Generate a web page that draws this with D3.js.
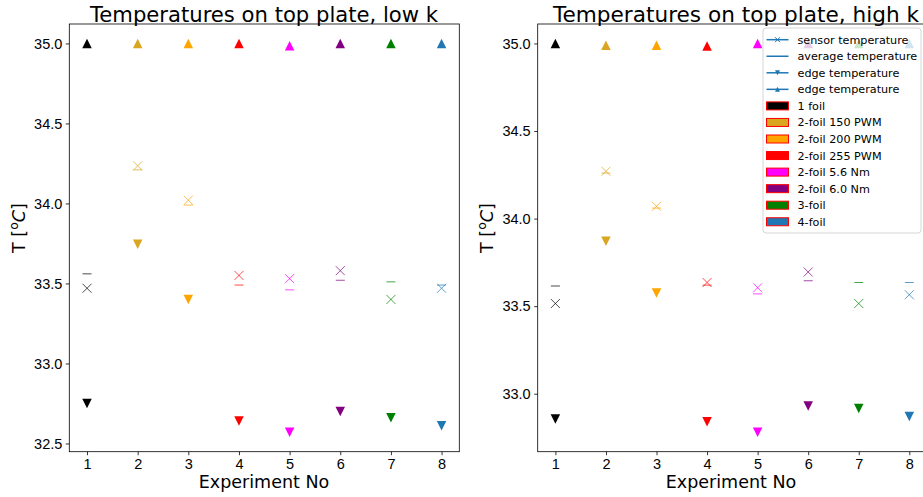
<!DOCTYPE html>
<html lang="en">
<head>
<meta charset="UTF-8">
<title>Temperatures on top plate</title>
<style>
    body { margin: 0; background: #fff; }
    svg { display: block; font-family: "DejaVu Sans", sans-serif; }
    .tick text { font-size: 14.5px; fill: #000; }
    .tick line { stroke: #000; stroke-width: 0.8; }
    .domain { display: none; }
</style>
</head>
<body>
<div id="chart"></div>
<script src="https://d3js.org/d3.v7.min.js"></script>
<script>
// Experiment numbers and foil configurations
const experiments = [1, 2, 3, 4, 5, 6, 7, 8];
const foilLabels = ["1 foil", "2-foil 150 PWM", "2-foil 200 PWM", "2-foil 255 PWM",
    "2-foil 5.6 Nm", "2-foil 6.0 Nm", "3-foil", "4-foil"];
const foilColors = ["black", "goldenrod", "orange", "red", "magenta", "purple", "green", "#1f77b4"];

// low k plate
const lowSensor  = [33.47, 34.235, 34.02, 33.55, 33.53, 33.58, 33.40, 33.47];
const lowAverage = [33.56, 34.21, 33.99, 33.49, 33.46, 33.52, 33.51, 33.49];
const lowEdgeMin = [32.75, 33.745, 33.40, 32.64, 32.57, 32.70, 32.66, 32.61];
const lowEdgeMax = [35.0, 35.0, 35.0, 35.0, 34.985, 35.0, 35.0, 35.0];

// high k plate
const highSensor  = [33.515, 34.27, 34.07, 33.635, 33.605, 33.695, 33.515, 33.565];
const highAverage = [33.615, 34.26, 34.06, 33.62, 33.57, 33.645, 33.635, 33.635];
const highEdgeMin = [32.855, 33.87, 33.575, 32.84, 32.78, 32.93, 32.915, 32.87];
const highEdgeMax = [35.0, 34.99, 34.99, 34.985, 35.0, 35.0, 35.0, 35.0];

const legendLines = ["sensor temperature", "average temperature", "edge temperature", "edge temperature"];
const yTicksLow = [32.5, 33.0, 33.5, 34.0, 34.5, 35.0];
const yTicksHigh = [33.0, 33.5, 34.0, 34.5, 35.0];

const width = 923, height = 497;
const svg = d3.select("#chart").append("svg")
    .attr("width", width)
    .attr("height", height);

function marker(g, type, x, y, size, color, opacity) {
    const h = size / 2;
    if (type === "x") {
        g.append("path")
            .attr("d", `M${x - h},${y - h}L${x + h},${y + h}M${x - h},${y + h}L${x + h},${y - h}`)
            .attr("stroke", color).attr("stroke-width", 1).attr("fill", "none")
            .attr("opacity", opacity);
    } else if (type === "_") {
        g.append("line")
            .attr("x1", x - h).attr("x2", x + h).attr("y1", y).attr("y2", y)
            .attr("stroke", color).attr("stroke-width", 1).attr("opacity", opacity);
    } else {
        const s = type === "^" ? 1 : -1;
        g.append("path")
            .attr("d", `M${x},${y - s * h}L${x - h},${y + s * h}L${x + h},${y + s * h}Z`)
            .attr("fill", color).attr("opacity", opacity);
    }
}

function drawPanel(opts) {
    const { left, right, top, bottom, title, sensor, average, edgeMin, edgeMax, yTicks, titleX } = opts;
    const g = svg.append("g");

    const allValues = sensor.concat(average, edgeMin, edgeMax);
    const lo = d3.min(allValues), hi = d3.max(allValues);
    const pad = (hi - lo) * 0.05;
    const x = d3.scaleLinear().domain([1 - 0.35, 8 + 0.35]).range([left, right]);
    const y = d3.scaleLinear().domain([lo - pad, hi + pad]).range([bottom, top]);

    // axes
    g.append("g")
        .attr("transform", `translate(0,${bottom})`)
        .call(d3.axisBottom(x).tickValues(experiments).tickFormat(d3.format("d"))
            .tickSize(3.5).tickPadding(3.5));
    g.append("g")
        .attr("transform", `translate(${left},0)`)
        .call(d3.axisLeft(y).tickValues(yTicks).tickFormat(d3.format(".1f"))
            .tickSize(3.5).tickPadding(3.5));

    // markers
    const pts = g.append("g");
    experiments.forEach((e, i) => {
        const c = foilColors[i];
        marker(pts, "x", x(e), y(sensor[i]), 9, c, 0.7);
        marker(pts, "_", x(e), y(average[i]), 9, c, 0.7);
        marker(pts, "v", x(e), y(edgeMin[i]), 9.5, c, 1);
        marker(pts, "^", x(e), y(edgeMax[i]), 9.5, c, 1);
    });

    // frame
    g.append("rect")
        .attr("x", left).attr("y", top)
        .attr("width", right - left).attr("height", bottom - top)
        .attr("fill", "none").attr("stroke", "#000").attr("stroke-width", 0.8);

    // titles
    g.append("text")
        .attr("x", titleX).attr("y", 21.5)
        .attr("text-anchor", "middle")
        .attr("font-size", 21.5)
        .attr("textLength", opts.titleLen)
        .attr("lengthAdjust", "spacingAndGlyphs")
        .text(title);

    g.append("text")
        .attr("x", opts.xLabelX)
        .attr("y", 488)
        .attr("text-anchor", "middle")
        .attr("font-size", 17.5)
        .text("Experiment No");

    const yl = g.append("text")
        .attr("transform", `translate(${opts.yLabelX},228) rotate(-90)`)
        .attr("text-anchor", "middle")
        .attr("font-size", 17.5);
    yl.append("tspan").text("T [");
    yl.append("tspan").attr("font-size", 12.5).attr("dy", -7).text("o");
    yl.append("tspan").attr("font-style", "italic").attr("dy", 7).text("C");
    yl.append("tspan").text("]");

    return g;
}

drawPanel({
    left: 69.3, right: 459.3, top: 24, bottom: 451.7,
    title: "Temperatures on top plate, low k", titleX: 264, titleLen: 348,
    sensor: lowSensor, average: lowAverage, edgeMin: lowEdgeMin, edgeMax: lowEdgeMax,
    yTicks: yTicksLow, yLabelX: 25, xLabelX: 264
});

drawPanel({
    left: 537.7, right: 927, top: 24, bottom: 451.7,
    title: "Temperatures on top plate, high k", titleX: 736, titleLen: 366,
    sensor: highSensor, average: highAverage, edgeMin: highEdgeMin, edgeMax: highEdgeMax,
    yTicks: yTicksHigh, yLabelX: 493, xLabelX: 731
});

// legend (upper right of high k panel)
const lg = svg.append("g");
const lx = 763, ly = 28, lw = 158, rowH = 16.55;
lg.append("rect")
    .attr("x", lx).attr("y", ly).attr("width", lw).attr("height", 205)
    .attr("rx", 3)
    .attr("fill", "#fff").attr("fill-opacity", 0.8)
    .attr("stroke", "#ccc").attr("stroke-width", 0.8);

const handleTypes = ["x", "_", "v", "^"];
legendLines.forEach((name, i) => {
    const cy = ly + 11.7 + i * rowH;
    lg.append("line")
        .attr("x1", lx + 3.5).attr("x2", lx + 25.5)
        .attr("y1", cy).attr("y2", cy)
        .attr("stroke", "#1f77b4").attr("stroke-width", 1.5);
    if (handleTypes[i] !== "_") {
        marker(lg, handleTypes[i], lx + 14.5, cy, 5, "#1f77b4", 1);
    }
    lg.append("text")
        .attr("x", lx + 34.5).attr("y", cy + 4)
        .attr("font-size", 11.2)
        .text(name);
});
foilLabels.forEach((name, i) => {
    const cy = ly + 11.7 + (i + 4) * rowH;
    lg.append("rect")
        .attr("x", lx + 3.5).attr("y", cy - 4)
        .attr("width", 22).attr("height", 8)
        .attr("fill", foilColors[i])
        .attr("stroke", "red").attr("stroke-width", 1);
    lg.append("text")
        .attr("x", lx + 34.5).attr("y", cy + 4)
        .attr("font-size", 11.2)
        .text(name);
});
</script>
</body>
</html>
